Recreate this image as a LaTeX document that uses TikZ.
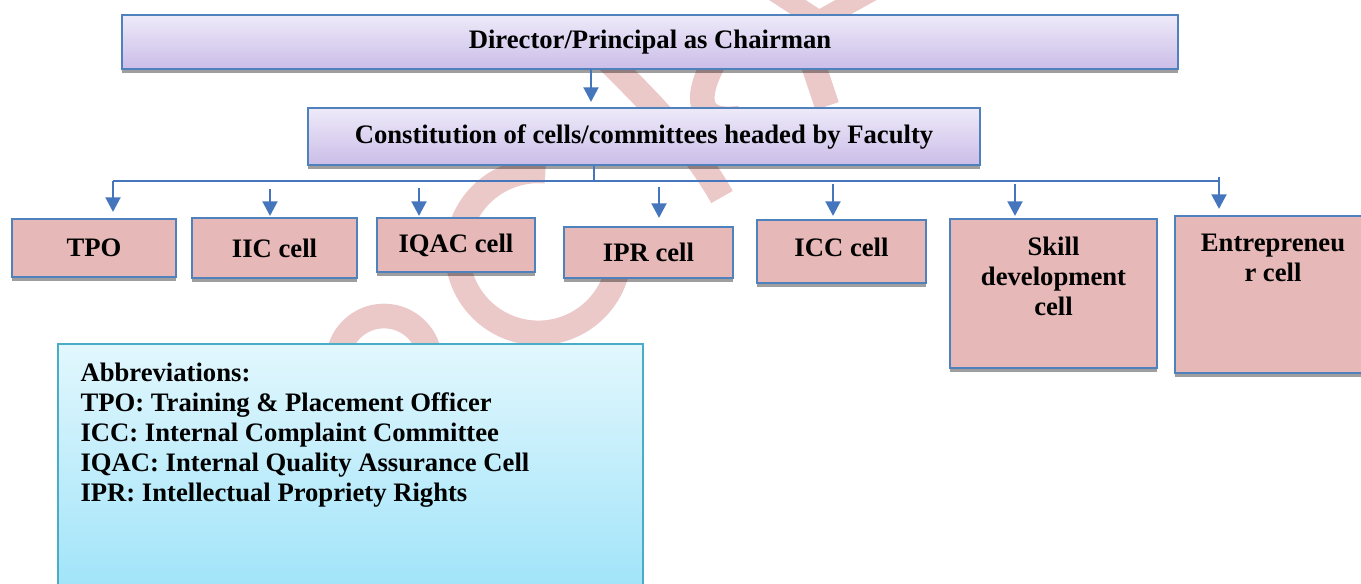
\documentclass[tikz,border=0pt]{standalone}
\usepackage{fontspec}
\setmainfont{Liberation Serif}
\usetikzlibrary{arrows.meta,shadows,positioning}

\definecolor{boxblue}{RGB}{79,129,189}
\definecolor{linkblue}{RGB}{69,117,189}
\definecolor{cellpink}{RGB}{230,184,183}
\definecolor{lilactop}{RGB}{238,234,249}
\definecolor{lilacbot}{RGB}{203,189,232}
\definecolor{notecyan}{RGB}{75,172,198}
\definecolor{notetop}{RGB}{226,247,253}
\definecolor{notebot}{RGB}{158,227,249}
\definecolor{stamp}{RGB}{236,201,201}

\tikzset{every picture/.style={line width=0.75pt}}
\tikzset{
	boxfont/.style={font=\fontsize{20}{22.5}\selectfont\bfseries},
	boxshadow/.style={drop shadow={shadow xshift=0pt, shadow yshift=-3pt, fill=black, opacity=0.38}},
	headbox/.style={draw=boxblue, line width=1.5pt, top color=lilactop, bottom color=lilacbot, inner sep=0pt, boxfont, boxshadow},
	cellbox/.style={draw=boxblue, line width=1.5pt, fill=cellpink, inner sep=0pt, boxfont, boxshadow},
	notebox/.style={draw=notecyan, line width=1.2pt, top color=notetop, bottom color=notebot, inner sep=0pt},
	bus/.style={draw=linkblue, line width=1.5pt},
	link/.style={draw=linkblue, line width=2.2pt, -{Triangle[width=11pt,length=11pt]}},
	stampline/.style={draw=stamp, line width=18.5pt},
	stamparm/.style={draw=stamp, line width=15pt}}

\begin{document}
\begin{tikzpicture}[x=0.75pt,y=0.75pt,yscale=-1,xscale=1]
	\useasboundingbox (0,0) rectangle (1361,583);
	\clip (0,0) rectangle (1361,583);

	%Curve Lines (stamp behind the chart)
	\draw [stampline] (545.4,171.2) arc [start angle=-85, end angle=-355, radius=81] ;
	%Shape: Circle
	\draw [stampline] (384,362) circle [radius=46] ;
	%Curve Lines
	\draw [stampline] (585,38) .. controls (640,92) and (690,140) .. (722,197) ;
	%Curve Lines
	\draw [stampline] (724,45) .. controls (695,90) and (690,125) .. (740,118) ;
	%Straight Lines
	\draw [stampline] (805,40) -- (827,106) ;
	\draw [stamparm] (772,-10) -- (818,20) ;
	\draw [stamparm] (874,-10) -- (820,20) ;

	%Shape: Rectangle
	\node [headbox, minimum width=792pt, minimum height=40.5pt] (chair) at (650,42) {Director/Principal as Chairman};
	%Shape: Rectangle
	\node [headbox, minimum width=504pt, minimum height=42.75pt] (cells) at (644,136.5) {Constitution of cells/committees headed by Faculty};

	%Shape: Rectangle
	\node [cellbox, minimum width=123pt, minimum height=43.5pt] (tpo) at (94,248) {TPO};
	%Shape: Rectangle
	\node [cellbox, minimum width=123.75pt, minimum height=45pt] (iic) at (274.5,248) {IIC cell};
	%Shape: Rectangle
	\node [cellbox, minimum width=118.5pt, minimum height=40.5pt] (iqac) at (456,245) {IQAC cell};
	%Shape: Rectangle
	\node [cellbox, minimum width=126.75pt, minimum height=38.25pt] (ipr) at (648.5,252.5) {IPR cell};
	%Shape: Rectangle
	\node [cellbox, minimum width=126.75pt, minimum height=47.25pt] (icc) at (841.5,251.5) {};
	%Shape: Rectangle
	\node [cellbox, minimum width=155.25pt, minimum height=111.75pt] (skill) at (1053.5,293.5) {};
	%Shape: Rectangle
	\node [cellbox, minimum width=147pt, minimum height=117.75pt] (entre) at (1273,294.5) {};

	% Text Node
	\node [boxfont, inner sep=0pt] (icctext) at (841.5,247.5) {ICC cell};
	% Text Node
	\node [boxfont, align=center, inner sep=0pt, below=13.5pt of skill.north] (skilltext) {Skill\\development\\cell};
	% Text Node
	\node [boxfont, align=center, inner sep=0pt, below=14.25pt of entre.north] (entretext) {Entrepreneu\\r cell};

	%Shape: Rectangle
	\node [notebox, minimum width=438.75pt, minimum height=192pt] (abbr) at (350.5,472) {};
	% Text Node
	\node [boxfont, align=left, inner sep=0pt, anchor=north west] (abbrtext) at (80,362) {Abbreviations:\\TPO: Training \& Placement Officer\\ICC: Internal Complaint Committee\\IQAC: Internal Quality Assurance Cell\\IPR: Intellectual Propriety Rights};

	%Straight Lines
	\coordinate (chairout) at (591,69);
	\draw [link, shorten >=3.75pt] (chairout) -- (chairout |- cells.north) ;

	%Straight Lines
	\coordinate (busmid) at (594,181);
	\coordinate (busleft) at (113,181);
	\coordinate (busright) at (1219,181);
	\draw [bus] (cells.south -| busmid) -- (busmid) ;
	\draw [bus] (busleft) -- (busright) ;

	%Straight Lines
	\draw [link, shorten >=4.5pt] (busleft) -- (busleft |- tpo.north) ;
	\coordinate (iicin) at (270,189);
	\draw [link, shorten >=0.75pt] (iicin) -- (iicin |- iic.north) ;
	\coordinate (iqacin) at (419,188);
	\draw [link, shorten >=0.75pt] (iqacin) -- (iqacin |- iqac.north) ;
	\coordinate (iprin) at (659,187);
	\draw [link, shorten >=6pt] (iprin) -- (iprin |- ipr.north) ;
	\coordinate (iccin) at (833,184);
	\draw [link, shorten >=2.25pt] (iccin) -- (iccin |- icc.north) ;
	\coordinate (skillin) at (1015,184);
	\draw [link, shorten >=1.5pt] (skillin) -- (skillin |- skill.north) ;
	\coordinate (entrein) at (1219,177);
	\draw [link, shorten >=4.5pt] (entrein) -- (entrein |- entre.north) ;

\end{tikzpicture}
\end{document}
